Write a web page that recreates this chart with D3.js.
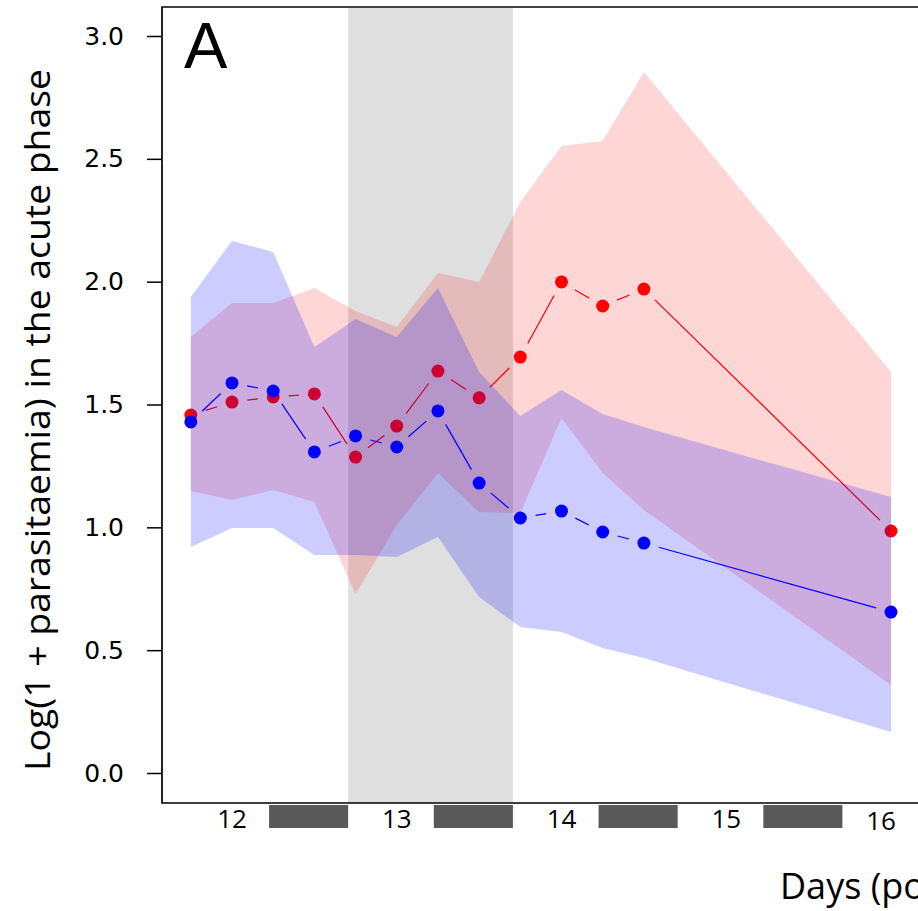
<!DOCTYPE html>
<html>
<head>
<meta charset="utf-8">
<script src="https://cdn.jsdelivr.net/npm/d3@7"></script>
<style>
  html, body { margin: 0; padding: 0; background: #fff; }
  svg { display: block; }
</style>
</head>
<body>
<svg id="chart" width="918" height="911"></svg>
<script>
// ---- data ----
const days      = [11.75, 12, 12.25, 12.5, 12.75, 13, 13.25, 13.5, 13.75, 14, 14.25, 14.5, 16];
const redMean   = [1.457, 1.510, 1.531, 1.543, 1.286, 1.412, 1.636, 1.527, 1.693, 1.999, 1.901, 1.970, 0.985];
const redLower  = [1.148, 1.111, 1.152, 1.103, 0.729, 1.009, 1.221, 1.062, 1.058, 1.445, 1.221, 1.071, 0.358];
const redUpper  = [1.775, 1.913, 1.913, 1.974, 1.881, 1.815, 2.035, 1.999, 2.324, 2.552, 2.573, 2.853, 1.632];
const blueMean  = [1.429, 1.588, 1.555, 1.307, 1.372, 1.327, 1.474, 1.180, 1.038, 1.066, 0.981, 0.936, 0.655];
const blueLower = [0.920, 0.997, 0.997, 0.887, 0.887, 0.879, 0.961, 0.716, 0.594, 0.574, 0.509, 0.468, 0.167];
const blueUpper = [1.938, 2.166, 2.121, 1.734, 1.848, 1.775, 1.974, 1.632, 1.453, 1.559, 1.461, 1.408, 1.123];
const yTicks    = [0, 0.5, 1.0, 1.5, 2.0, 2.5, 3.0];
const dayLabels = [12, 13, 14, 15, 16];
const nights    = [[12.225, 12.705], [13.225, 13.705], [14.225, 14.705], [15.225, 15.705]];
const shadedDay = [12.705, 13.705];
const yTitle    = "Log(1 + parasitaemia) in the acute phase";
const xTitle    = "Days (post infection)";
const panel     = "A";

(function () {
// ---- layout ----
const svg = d3.select("#chart");
const pLeft = 162, pTop = 7, pBottom = 803, pRight = 918;
const x = d3.scaleLinear().domain([12, 16]).range([232, 891]);
const y = d3.scaleLinear().domain([0, 3]).range([773, 36]);

// shaded day
svg.append("rect")
  .attr("x", x(shadedDay[0])).attr("y", pTop + 1)
  .attr("width", x(shadedDay[1]) - x(shadedDay[0]))
  .attr("height", pBottom - pTop - 1)
  .attr("fill", "#dfdfdf");

const idx = days.map((d, i) => i);
function band(lo, hi, color, op) {
  const area = d3.area()
    .x(i => x(days[i]))
    .y0(i => y(lo[i]))
    .y1(i => y(hi[i]));
  svg.append("path").datum(idx)
    .attr("d", area)
    .attr("fill", color)
    .attr("fill-opacity", op);
}
function series(vals, color) {
  const gap = 15.5;
  const g = svg.append("g");
  for (let i = 0; i < days.length - 1; i++) {
    const x0 = x(days[i]), y0 = y(vals[i]), x1 = x(days[i + 1]), y1 = y(vals[i + 1]);
    const dx = x1 - x0, dy = y1 - y0, len = Math.hypot(dx, dy);
    if (len <= 2 * gap) continue;
    const ux = dx / len, uy = dy / len;
    g.append("line")
      .attr("x1", x0 + ux * gap).attr("y1", y0 + uy * gap)
      .attr("x2", x1 - ux * gap).attr("y2", y1 - uy * gap)
      .attr("stroke", color).attr("stroke-width", 1.2);
  }
  g.selectAll("circle").data(idx).join("circle")
    .attr("cx", i => x(days[i]))
    .attr("cy", i => y(vals[i]))
    .attr("r", 6.5)
    .attr("fill", color);
}

band(redLower, redUpper, "#ff0000", 0.16);
series(redMean, "#ff0000");
band(blueLower, blueUpper, "#0000ff", 0.2);
series(blueMean, "#0000ff");

// frame
svg.append("path")
  .attr("d", `M${pRight},${pTop}H${pLeft}V${pBottom}H${pRight}`)
  .attr("fill", "none").attr("stroke", "#000").attr("stroke-width", 1.7);

// y axis
const yAxis = d3.axisLeft(y)
  .tickValues(yTicks)
  .tickFormat(d3.format(".1f"))
  .tickSize(15).tickSizeOuter(0).tickPadding(23);
const ga = svg.append("g").attr("transform", `translate(${pLeft},0)`).call(yAxis);
ga.select(".domain").remove();
ga.selectAll(".tick line").attr("stroke", "#000").attr("stroke-width", 1.5);
ga.selectAll(".tick text")
  .attr("font-family", "DejaVu Sans").attr("font-size", 25).attr("fill", "#000");

// night bars
svg.selectAll("rect.night").data(nights).join("rect")
  .attr("class", "night")
  .attr("x", d => x(d[0])).attr("y", 805)
  .attr("width", d => x(d[1]) - x(d[0])).attr("height", 23)
  .attr("fill", "#595959");

// day labels
svg.selectAll("text.day").data(dayLabels).join("text")
  .attr("class", "day")
  .attr("x", d => x(d) + (d === 16 ? -10 : 0))
  .attr("y", d => d === 16 ? 830 : 828)
  .attr("text-anchor", "middle")
  .attr("font-family", "Open Sans").attr("font-size", 26).attr("fill", "#000")
  .text(d => d);

// axis titles
svg.append("text")
  .attr("transform", "translate(50,420) rotate(-90)")
  .attr("text-anchor", "middle")
  .attr("font-family", "Open Sans").attr("font-size", 34)
  .attr("textLength", 702).attr("lengthAdjust", "spacingAndGlyphs")
  .attr("fill", "#000")
  .text(yTitle);

svg.append("text")
  .attr("x", 780).attr("y", 899)
  .attr("font-family", "Open Sans").attr("font-size", 36).attr("fill", "#000")
  .text(xTitle);

// panel letter
svg.append("text")
  .attr("x", 184).attr("y", 68)
  .attr("font-family", "Liberation Sans").attr("font-size", 65).attr("fill", "#000")
  .text(panel);
})();
</script>
</body>
</html>
